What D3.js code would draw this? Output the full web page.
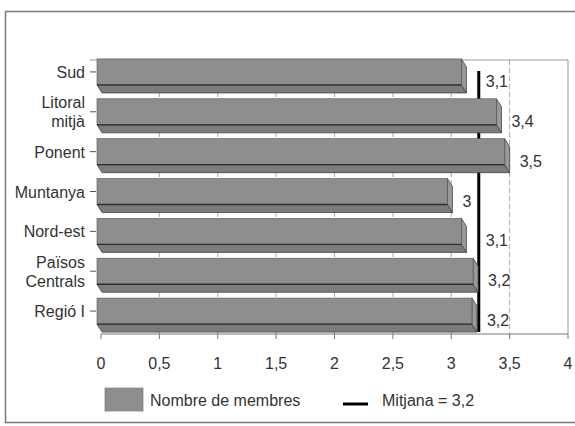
<!DOCTYPE html>
<html>
<head>
<meta charset="utf-8">
<script src="https://cdn.jsdelivr.net/npm/d3@7"></script>
<style>
  html, body { margin: 0; padding: 0; background: #fff; }
  svg { display: block; }
  text { font-family: "Liberation Sans", Arial, sans-serif; fill: #333; }
</style>
</head>
<body>
<svg id="chart" width="575" height="426"></svg>
<script>
// Categories (line breaks mark two-line labels)
const categories = ["Sud", "Litoral\nmitjà", "Ponent", "Muntanya", "Nord-est", "Països\nCentrals", "Regió I"];
// Nombre de membres per category
const values = [3.13, 3.43, 3.50, 3.01, 3.13, 3.23, 3.22];
// X axis ticks
const xTicks = [0, 0.5, 1, 1.5, 2, 2.5, 3, 3.5, 4];
const legendLabels = ["Nombre de membres", "Mitjana"];

const meanValue = d3.mean(values);

const locale = d3.formatLocale({ decimal: ",", thousands: ".", grouping: [3], currency: ["", " €"] });
const fmtVal = locale.format(".1~f");
const fmtTick = locale.format("~g");

const svg = d3.select("#chart");

const plot = { left: 101, right: 568, top: 60, bottom: 334 };

const x = d3.scaleLinear().domain([0, 4]).range([plot.left, plot.right]);
const y = d3.scaleBand().domain(categories).range([56, 335]).paddingInner(0.146).paddingOuter(0.073);

const depthX = 5, depthY = 8;
const bw = y.bandwidth();
const faceH = bw - depthY;

// Outer frame
svg.append("rect")
  .attr("x", 5.5).attr("y", 11.5).attr("width", 620).attr("height", 411)
  .attr("fill", "none").attr("stroke", "#7a7a7a").attr("stroke-width", 1.5);

// Vertical gridlines
svg.append("g").selectAll("line")
  .data(xTicks.filter(t => t > 0 && t < 4))
  .join("line")
  .attr("x1", d => x(d)).attr("x2", d => x(d))
  .attr("y1", plot.top).attr("y2", plot.bottom)
  .attr("stroke", "#aaa").attr("stroke-width", 1)
  .attr("stroke-dasharray", "5,3");

// Plot frame (top and right)
svg.append("path")
  .attr("d", `M${plot.left - 11},${plot.top}H${plot.right}V${plot.bottom}`)
  .attr("fill", "none").attr("stroke", "#999").attr("stroke-width", 1);

// Mean line (behind the bars)
svg.append("line")
  .attr("x1", x(meanValue)).attr("x2", x(meanValue))
  .attr("y1", y(categories[0]) + faceH / 2 - 1)
  .attr("y2", y(categories[categories.length - 1]) + bw)
  .attr("stroke", "#000").attr("stroke-width", 3);

// 3-D bars
const bars = svg.append("g").selectAll("g")
  .data(categories.map((c, i) => ({ c, v: values[i] })))
  .join("g");

function geom(d) {
  const by0 = y(d.c) + depthY, by1 = y(d.c) + bw;
  const bx0 = x(0) + 1, bx1 = x(d.v);
  return { fx0: bx0 - depthX, fx1: bx1 - depthX, fy0: by0 - depthY, fy1: by1 - depthY, bx0, bx1, by0, by1 };
}

// bottom face
bars.append("path")
  .attr("d", d => {
    const g = geom(d);
    return `M${g.fx0},${g.fy1}L${g.fx1},${g.fy1}L${g.bx1},${g.by1}L${g.bx0},${g.by1}Z`;
  })
  .attr("fill", "#7c7c7c").attr("stroke", "#444").attr("stroke-width", 0.8);

// side face
bars.append("path")
  .attr("d", d => {
    const g = geom(d);
    return `M${g.fx1},${g.fy0}L${g.bx1},${g.by0}L${g.bx1},${g.by1}L${g.fx1},${g.fy1}Z`;
  })
  .attr("fill", "#999").attr("stroke", "#444").attr("stroke-width", 0.8);

// front face
bars.append("rect")
  .attr("x", d => geom(d).fx0)
  .attr("y", d => geom(d).fy0)
  .attr("width", d => geom(d).fx1 - geom(d).fx0)
  .attr("height", faceH)
  .attr("fill", "#8e8e8e").attr("stroke", "#555").attr("stroke-width", 0.6);

// darker front bottom edge
bars.append("line")
  .attr("x1", d => geom(d).fx0).attr("x2", d => geom(d).fx1)
  .attr("y1", d => geom(d).fy1).attr("y2", d => geom(d).fy1)
  .attr("stroke", "#2e2e2e").attr("stroke-width", 1.3);

// Value labels, nudged past the mean line when they would overlap it
const mx = x(meanValue);
svg.append("g").selectAll("text")
  .data(categories.map((c, i) => ({ c, v: values[i] })))
  .join("text")
  .attr("font-size", 16)
  .attr("y", d => y(d.c) + bw / 2 + 11)
  .text(d => fmtVal(d.v))
  .each(function (d) {
    let lx = x(d.v) + 10;
    const w = this.getComputedTextLength();
    if (lx < mx + 6 && lx + w > mx - 3) lx = mx + 7;
    d3.select(this).attr("x", lx);
  });

// Category axis
const yAxis = svg.append("g");
categories.forEach(c => {
  const cy = y(c) + faceH / 2;
  yAxis.append("line")
    .attr("x1", 90).attr("x2", 96).attr("y1", cy).attr("y2", cy)
    .attr("stroke", "#555").attr("stroke-width", 1);
  const lines = c.split("\n");
  const t = yAxis.append("text").attr("text-anchor", "end").attr("font-size", 16);
  lines.forEach((ln, i) => {
    t.append("tspan")
      .attr("x", 85)
      .attr("y", cy + 6 + (i - (lines.length - 1) / 2) * 19)
      .text(ln);
  });
});

// Value axis
const xAxis = svg.append("g");
xAxis.append("line")
  .attr("x1", plot.left).attr("x2", plot.right)
  .attr("y1", plot.bottom).attr("y2", plot.bottom)
  .attr("stroke", "#777").attr("stroke-width", 1);
xAxis.selectAll("line.tick")
  .data(xTicks).join("line").attr("class", "tick")
  .attr("x1", d => x(d)).attr("x2", d => x(d))
  .attr("y1", plot.bottom).attr("y2", plot.bottom + 5)
  .attr("stroke", "#777").attr("stroke-width", 1);
xAxis.selectAll("text")
  .data(xTicks).join("text")
  .attr("x", d => x(d)).attr("y", 369)
  .attr("text-anchor", "middle").attr("font-size", 16)
  .text(d => fmtTick(d));

// Legend
const legend = svg.append("g");
legend.append("rect")
  .attr("x", 105).attr("y", 388).attr("width", 38).attr("height", 23)
  .attr("fill", "#8e8e8e").attr("stroke", "#888").attr("stroke-width", 0.8);
legend.append("text")
  .attr("x", 150).attr("y", 406).attr("font-size", 16)
  .text(legendLabels[0]);
legend.append("line")
  .attr("x1", 343).attr("x2", 368).attr("y1", 404).attr("y2", 404)
  .attr("stroke", "#000").attr("stroke-width", 3);
legend.append("text")
  .attr("x", 382).attr("y", 406).attr("font-size", 16)
  .text(`${legendLabels[1]} = ${fmtVal(meanValue)}`);
</script>
</body>
</html>
